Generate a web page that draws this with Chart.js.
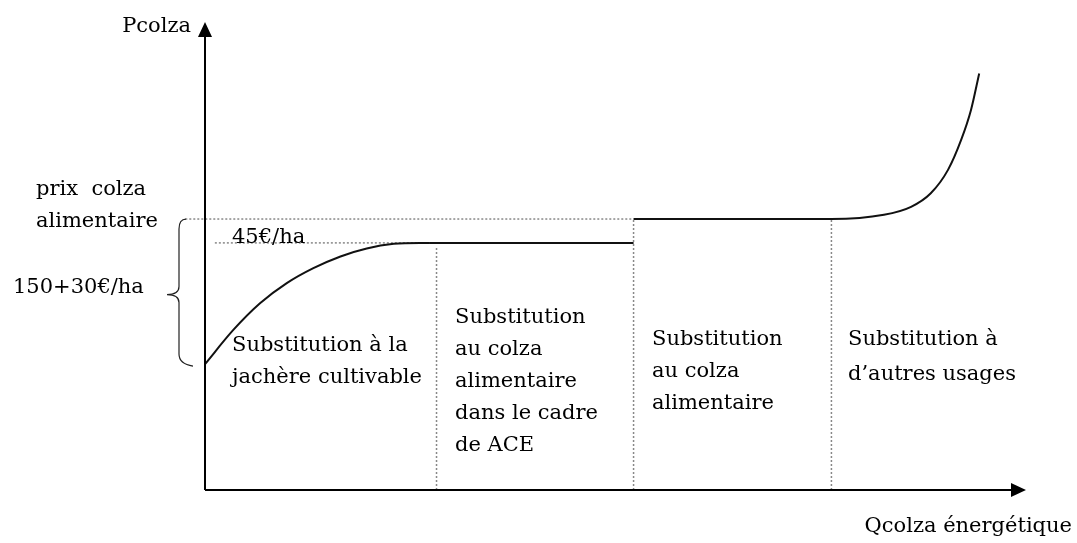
<!DOCTYPE html>
<html>
<head>
<meta charset="utf-8">
<script src="https://cdn.jsdelivr.net/npm/chart.js@4"></script>
<style>
  html, body { margin: 0; padding: 0; background: #fff; }
  #wrap { width: 1077px; height: 543px; }
</style>
</head>
<body>
<div id="wrap"><canvas id="canvasChart" width="1077" height="543"></canvas></div>
<script>
const qCourbeJachere = [0, 3.45, 6.7, 9.96, 13.2, 16.5, 19.7, 23.0, 26.2, 27.4];
const pCourbeJachere = [26.9, 34.2, 39.9, 44.2, 47.4, 49.9, 51.6, 52.6, 52.8, 52.8];
const qCourbeHaute = [52.2, 76.3, 82.7, 86.0, 88.4, 90.5, 92.1, 93.3, 94.3];
const pCourbeHaute = [57.9, 57.9, 58.8, 60.5, 63.4, 68.4, 74.8, 81.2, 89.0];
const qSegmentACE = [27.4, 52.2];
const pNiveauACE = 52.8;
const pPrixAlimentaire = 57.9;
const qPointilles45 = [1.2, 27.4];
const qPointillesPrix = [-2.4, 52.2];
const qLimites = [28.2, 52.2, 76.3];
const pHautLimites = [52.0, 57.9, 57.9];

const titreY = 'Pcolza';
const titreX = 'Qcolza énergétique';
const etiquettesGauche = ['prix  colza', 'alimentaire', '150+30€/ha'];
const etiquette45 = '45€/ha';
const blocs = [
    ['Substitution à la', 'jachère cultivable'],
    ['Substitution', 'au colza', 'alimentaire', 'dans le cadre', 'de ACE'],
    ['Substitution', 'au colza', 'alimentaire'],
    ['Substitution à', 'd\u2019autres usages']
];

function points(xs, ys) {
    return xs.map((x, i) => ({ x: x, y: Array.isArray(ys) ? ys[i] : ys }));
}

const POLICE = '21px "DejaVu Serif", "Liberation Serif", serif';

let datasets = [
    { data: points(qCourbeJachere, pCourbeJachere), borderColor: '#111', borderWidth: 2, cubicInterpolationMode: 'monotone' },
    { data: points(qPointilles45, pNiveauACE), borderColor: '#888', borderWidth: 1.5, borderDash: [2, 2] },
    { data: points(qSegmentACE, pNiveauACE), borderColor: '#111', borderWidth: 2 },
    { data: points(qPointillesPrix, pPrixAlimentaire), borderColor: '#888', borderWidth: 1.5, borderDash: [2, 2], clip: false },
    { data: points(qCourbeHaute, pCourbeHaute), borderColor: '#111', borderWidth: 2, cubicInterpolationMode: 'monotone' }
];
qLimites.forEach((q, i) => {
    datasets.push({ data: points([q, q], [0, pHautLimites[i]]), borderColor: '#888', borderWidth: 1.5, borderDash: [2, 2] });
});
datasets.forEach(d => { d.showLine = true; d.pointRadius = 0; d.fill = false; });

const schemaPlugin = {
    id: 'schema',
    afterDatasetsDraw(chart) {
        const ctx = chart.ctx;
        const xs = chart.scales.x, ys = chart.scales.y;
        const x0 = xs.getPixelForValue(0), y0 = ys.getPixelForValue(0);
        const xMax = xs.getPixelForValue(100), yMax = ys.getPixelForValue(100);
        ctx.save();

        // axes + flèches
        ctx.strokeStyle = '#000';
        ctx.fillStyle = '#000';
        ctx.lineWidth = 2;
        ctx.beginPath();
        ctx.moveTo(x0, y0); ctx.lineTo(x0, yMax + 12);
        ctx.moveTo(x0, y0); ctx.lineTo(xMax - 12, y0);
        ctx.stroke();
        ctx.beginPath();
        ctx.moveTo(x0, yMax); ctx.lineTo(x0 - 7, yMax + 15); ctx.lineTo(x0 + 7, yMax + 15); ctx.closePath();
        ctx.fill();
        ctx.beginPath();
        ctx.moveTo(xMax, y0); ctx.lineTo(xMax - 15, y0 - 7); ctx.lineTo(xMax - 15, y0 + 7); ctx.closePath();
        ctx.fill();

        // accolade
        const yTop = ys.getPixelForValue(pPrixAlimentaire);
        const yBas = ys.getPixelForValue(pCourbeJachere[0]);
        const yMil = (yTop + yBas) / 2 + 3;
        ctx.lineWidth = 1.2;
        ctx.strokeStyle = '#222';
        ctx.beginPath();
        ctx.moveTo(186, yTop);
        ctx.quadraticCurveTo(179, yTop, 179, yTop + 10);
        ctx.lineTo(179, yMil - 8);
        ctx.quadraticCurveTo(179, yMil, 167, yMil);
        ctx.quadraticCurveTo(179, yMil, 179, yMil + 8);
        ctx.lineTo(179, yBas - 10);
        ctx.quadraticCurveTo(179, yBas, 193, yBas + 2);
        ctx.stroke();

        // textes
        ctx.fillStyle = '#000';
        ctx.font = POLICE;
        ctx.textBaseline = 'middle';
        ctx.textAlign = 'right';
        ctx.fillText(titreY, 191, 27);
        ctx.fillText(titreX, 1072, 527);
        ctx.textAlign = 'left';
        ctx.fillText(etiquettesGauche[0], 36, 190);
        ctx.fillText(etiquettesGauche[1], 36, 222);
        ctx.fillText(etiquettesGauche[2], 13, 288);
        ctx.fillText(etiquette45, 232, 238);

        const blocX = [232, 455, 652, 848];
        const blocY = [346, 318, 340, 340];
        const pas = [32, 32, 32, 35];
        blocs.forEach((lignes, i) => {
            lignes.forEach((t, j) => ctx.fillText(t, blocX[i], blocY[i] + j * pas[i]));
        });
        ctx.restore();
    }
};

new Chart(document.getElementById('canvasChart').getContext('2d'), {
    type: 'scatter',
    data: { datasets: datasets },
    options: {
        responsive: false,
        animation: false,
        devicePixelRatio: 1,
        layout: { padding: { left: 205, right: 51, top: 22, bottom: 53 } },
        scales: {
            x: { type: 'linear', min: 0, max: 100, display: false },
            y: { type: 'linear', min: 0, max: 100, display: false }
        },
        plugins: { legend: { display: false }, tooltip: { enabled: false } }
    },
    plugins: [schemaPlugin]
});
</script>
</body>
</html>
